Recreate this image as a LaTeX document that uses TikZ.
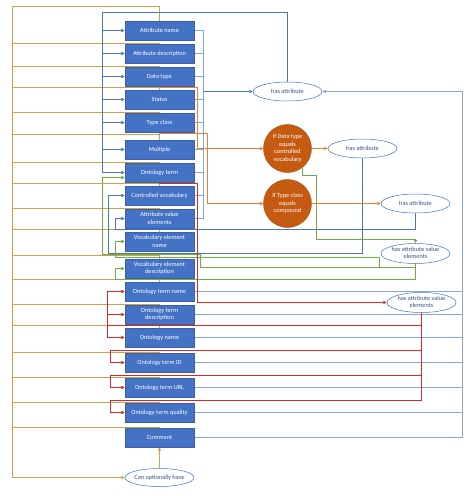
\documentclass[tikz,border=0pt]{standalone}
\usepackage{fontspec}
\setmainfont{Carlito}
\usetikzlibrary{arrows.meta,shapes.geometric}
\definecolor{boxblue}{HTML}{4472C4}
\definecolor{lineA}{HTML}{4A74C4}
\definecolor{lineB}{HTML}{8AA5D8}
\definecolor{orline}{HTML}{ED7D31}
\definecolor{orfill}{HTML}{C55A11}
\definecolor{grline}{HTML}{70AD47}
\definecolor{rdline}{HTML}{DC2828}
\definecolor{gdline}{HTML}{CCA24A}
\definecolor{elltext}{HTML}{3C508C}
\newcommand\tx[1]{#1}
\newcommand\etx[1]{\makebox[0pt]{\begin{tabular}{@{}c@{}}#1\end{tabular}}}
\newcommand\nodeset{%
\node[box] (a1) at (159,30) {\tx{Attribute name}};
\node[box] (a2) at (159,53) {\tx{Attribute description}};
\node[box] (a3) at (159,76) {\tx{Data type}};
\node[box] (a4) at (159,99) {\tx{Status}};
\node[box] (a5) at (159,122) {\tx{Type class}};
\node[box] (a6) at (159,149) {\tx{Multiple}};
\node[box] (a7) at (159,172) {\tx{Ontology term}};
\node[box] (a8) at (159,195) {\tx{Controlled vocabulary}};
\node[box] (a9) at (159,218) {\tx{Attribute value\\elements}};
\node[box] (a10) at (159,241) {\tx{Vocabulary element\\name}};
\node[box] (a11) at (159,268) {\tx{Vocabulary element\\description}};
\node[box] (a12) at (159,291) {\tx{Ontology term name}};
\node[box] (a13) at (159,314) {\tx{Ontology term\\description}};
\node[box] (a14) at (159,337) {\tx{Ontology name}};
\node[box] (a15) at (159,362) {\tx{Ontology term ID}};
\node[box] (a16) at (159,387) {\tx{Ontology term URL}};
\node[box] (a17) at (159,412) {\tx{Ontology term quality}};
\node[box] (a18) at (159,437) {\tx{Comment}};
\node[ell] (h1) at (287,91) {\tx{\etx{has attribute}}};
\node[cond] (c1) at (287,148) {\tx{If Data type\\equals\\controlled\\vocabulary}};
\node[ell] (h2) at (362,148) {\tx{\etx{has attribute}}};
\node[cond] (c2) at (287,203) {\tx{If Type class\\equals\\compound}};
\node[ell] (h3) at (415,203) {\tx{\etx{has attribute}}};
\node[ell,minimum height=20pt] (v1) at (415,253) {\tx{\etx{has attribute value\\elements}}};
\node[ell,minimum height=20pt] (v2) at (421,302) {\tx{\etx{has attribute value\\elements}}};
\node[ell,minimum height=18pt] (can) at (159,477) {\tx{\etx{Can optionally have}}};
}
\begin{document}
\begin{tikzpicture}[x=1pt,y=-1pt,
  txt/.style={font=\fontsize{6.3}{7.5}\selectfont},
  box/.style={txt,rectangle,fill=boxblue,draw=boxblue!85!black,line width=0.4pt,text=white,minimum width=69pt,minimum height=18.5pt,inner sep=0pt,align=center},
  ell/.style={txt,ellipse,fill=white,draw=boxblue,line width=0.5pt,text=elltext,minimum width=69pt,minimum height=19pt,inner xsep=0pt,inner ysep=-2.5pt},
  cond/.style={txt,circle,fill=orfill,draw=orfill!85!black,line width=0.4pt,text=white,minimum size=48pt,inner sep=0pt,align=center},
  ghost/.style={draw=none,fill=none},
  arr/.style={-{Triangle[length=3.5pt,width=3.2pt]}},
  lw/.style={line width=1pt},
  bA/.style={lw,color=lineA},
  bB/.style={lw,color=lineB},
  orl/.style={lw,color=orline},
  grl/.style={lw,color=grline},
  rdl/.style={lw,color=rdline},
  gdl/.style={lw,color=gdline}]
\fill[white] (0,0) rectangle (474,496);
\useasboundingbox (0,0) rectangle (474,496);
\begin{scope}[shift={(0.5,0.5)}]
% first pass: invisible nodes, only to fix the anchors
\begin{scope}[box/.append style={ghost},ell/.append style={ghost},cond/.append style={ghost}]
\renewcommand\tx[1]{}
\nodeset
\end{scope}

\coordinate (xL) at (102,0);
\coordinate (xB1) at (203,0);
\coordinate (xB2) at (462,0);

% gold
\draw[gdl,arr] (a1.north) |- (12,6) |- (can.west);
\foreach \n/\y in {a2/43,a3/66,a4/87,a5/112,a6/134,a7/162,a8/183,a9/208,a10/229,a11/255,a12/279,a13/304,a14/325,a15/352,a16/377,a17/402,a18/427}
  \draw[gdl] (12,\y) -| (\n.north);
\draw[gdl,arr] (can.north) -- (a18.south);

% blue left bus
\draw[bA] (h1.north) |- (102,12) -- (xL |- a7.west);
\foreach \n in {a1,a2,a3,a4,a5,a6,a7}
  \draw[bA,arr] (xL |- \n.west) -- (\n.west);
% blue right bus 1
\draw[bB] (a1.east) -| (xB1 |- a9.east) -- (a9.east);
\foreach \n in {a2,a3,a4,a5,a6,a7,a8}
  \draw[bB] (\n.east) -- (xB1 |- \n.east);
\draw[bA,arr] (xB1 |- h1.west) -- (h1.west);
% blue right bus 2
\draw[bB,arr] (a18.east) -| (xB2 |- h1.east) -- (h1.east);
\foreach \n in {a12,a13,a14,a15,a16,a17}
  \draw[bB] (\n.east) -- (xB2 |- \n.east);
% has attribute -> controlled vocabulary / attribute value elements
\draw[bA,arr] (h2.south) |- (108,253) |- (a8.west);
\draw[bA,arr] (h3.south) |- (115,229) |- (a9.west);

% orange
\draw[orl,arr] (a3.south) |- (197,87) |- (c1.west);
\draw[orl,arr] (a5.south) |- (207,133) |- (c2.west);
\draw[orl,arr] (c1.east) -- (h2.west);
\draw[orl,arr] (c2.east) -- (h3.west);

% green
\draw[grl,arr] (c1.-52) |- (316,175) -- (316,239) -| (v1.north);
\draw[grl,arr] (v1.south) |- (115,279) |- (a11.west);
\draw[grl,arr] (v1.south) |- (379,267) |- (115,257) |- (a10.west);
\draw[grl,arr] (v1.south) |- (200,267) |- (102,254) |- ([yshift=-5pt]a7.west);

% red
\draw[rdl,arr] (a7.south) |- (197,183) |- (v2.west);
\draw[rdl,arr] (v2.south) |- (107,325) |- (a12.west);
\draw[rdl,arr] (107,325) |- (a13.west);
\draw[rdl,arr] (107,325) |- (a14.west);
\draw[rdl,arr] (v2.south) |- (110,350) |- (a15.west);
\draw[rdl,arr] (v2.south) |- (110,375) |- (a16.west);
\draw[rdl,arr] (v2.south) |- (110,400) |- (a17.west);

% visible nodes on top
\nodeset
\end{scope}
\end{tikzpicture}
\end{document}
